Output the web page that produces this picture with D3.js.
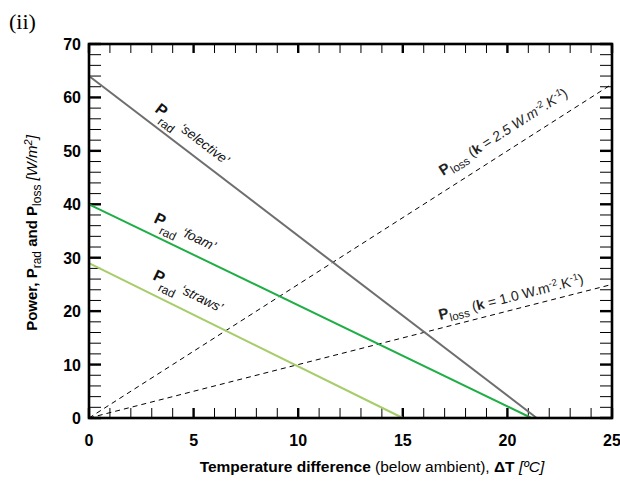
<!DOCTYPE html>
<html><head><meta charset="utf-8">
<script src="https://cdn.jsdelivr.net/npm/d3@7"></script>
<style>
body{margin:0;background:#fff;}
svg text{font-family:"Liberation Sans",Arial,Helvetica,sans-serif;}
</style></head>
<body><svg id="c" width="620" height="483"></svg>
<script>
// ---- data ----
const xTicks = [0,5,10,15,20,25];
const yTicks = [0,10,20,30,40,50,60,70];
const radNames = ["selective","foam","straws"];
const radX = [[0,21.4],[0,21.15],[0,15]];
const radY = [[64,0],[40,0],[29,0]];
const radColors = ["#6e6e6e","#1fae45","#a6cd6a"];
const lossK = [2.5,1.0];
const lossX = [0,25];

const svg = d3.select("#c");
const m = {l:89,r:612,t:44,b:418};
const x = d3.scaleLinear().domain([0,25]).range([m.l,m.r]);
const y = d3.scaleLinear().domain([0,70]).range([m.b,m.t]);

svg.append("text").attr("x",9).attr("y",29).text("(ii)")
  .style("font-family","'Liberation Serif',Times,serif").style("font-size","22px");

// ticks
const minorX = d3.range(0,26,1), minorY = d3.range(0,71,2);
const g = svg.append("g");
minorX.forEach(v=>{
  const maj = v%5===0;
  g.append("line").attr("x1",x(v)).attr("x2",x(v)).attr("y1",m.b).attr("y2",m.b-10)
   .attr("stroke","#000").attr("stroke-width",maj?2.4:1);
  g.append("line").attr("x1",x(v)).attr("x2",x(v)).attr("y1",m.t).attr("y2",m.t+9)
   .attr("stroke","#000").attr("stroke-width",maj?2.4:1);
});
minorY.forEach(v=>{
  const maj = v%10===0;
  g.append("line").attr("x1",m.l).attr("x2",m.l+12).attr("y1",y(v)).attr("y2",y(v))
   .attr("stroke","#000").attr("stroke-width",maj?2.4:1);
  g.append("line").attr("x1",m.r).attr("x2",m.r-12).attr("y1",y(v)).attr("y2",y(v))
   .attr("stroke","#000").attr("stroke-width",maj?2.4:1);
});

// lines
const line = d3.line().x(d=>x(d[0])).y(d=>y(d[1]));
lossK.forEach(k=>{
  svg.append("path").datum(lossX.map(v=>[v,k*v])).attr("d",line)
    .attr("fill","none").attr("stroke","#000").attr("stroke-width",1)
    .attr("stroke-dasharray","5,4");
});
radNames.forEach((n,i)=>{
  svg.append("path").datum(radX[i].map((v,j)=>[v,radY[i][j]])).attr("d",line)
    .attr("fill","none").attr("stroke",radColors[i]).attr("stroke-width",2);
});

// frame
svg.append("rect").attr("x",m.l).attr("y",m.t).attr("width",m.r-m.l).attr("height",m.b-m.t)
  .attr("fill","none").attr("stroke","#000").attr("stroke-width",2.6);

// tick labels
xTicks.forEach(v=>svg.append("text").attr("x",x(v)).attr("y",446).attr("text-anchor","middle")
  .style("font-weight","bold").style("font-size","16px").text(v));
yTicks.forEach(v=>svg.append("text").attr("x",81).attr("y",y(v)+6).attr("text-anchor","end")
  .style("font-weight","bold").style("font-size","16px").text(v));

// axis titles
const xt = svg.append("text").attr("x",372).attr("y",472).attr("text-anchor","middle").style("font-size","15.5px");
xt.append("tspan").style("font-weight","bold").text("Temperature difference");
xt.append("tspan").text(" (below ambient),  ");
xt.append("tspan").style("font-weight","bold").text("ΔT");
xt.append("tspan").style("font-style","italic").text(" [ºC]");

const yt = svg.append("text").attr("transform","translate(37,233) rotate(-90)").attr("text-anchor","middle").style("font-size","15px");
yt.append("tspan").style("font-weight","bold").text("Power, P");
yt.append("tspan").attr("dy",4).style("font-size","12px").text("rad");
yt.append("tspan").attr("dy",-4).style("font-weight","bold").text(" and P");
yt.append("tspan").attr("dy",4).style("font-size","12px").text("loss");
yt.append("tspan").attr("dy",-4).style("font-style","italic").text("  [W/m");
yt.append("tspan").attr("dy",-5).style("font-style","italic").style("font-size","11px").text("2");
yt.append("tspan").attr("dy",5).style("font-style","italic").text("]");

// line labels
function angleOf(x0,y0,x1,y1){return Math.atan2(y(y1)-y(y0),x(x1)-x(x0))*180/Math.PI;}
const radLabelPos = [[154,111],[153,222],[152,279]];
radNames.forEach((n,i)=>{
  const a = angleOf(radX[i][0],radY[i][0],radX[i][1],radY[i][1]);
  const t = svg.append("text").attr("transform",`translate(${radLabelPos[i][0]},${radLabelPos[i][1]}) rotate(${a})`)
    .style("font-size","13.5px").attr("fill","#111");
  t.append("tspan").style("font-weight","bold").style("font-size","16px").text("P");
  t.append("tspan").attr("dy",8).attr("dx",-1).style("font-size","12px").text("rad");
  t.append("tspan").attr("dy",-8).style("font-style","italic").text(" \u2018"+n+"\u2019");
});
const lossLabelPos = [[443,176],[440,320]];
lossK.forEach((k,i)=>{
  const a = angleOf(0,0,25,25*k);
  const t = svg.append("text").attr("transform",`translate(${lossLabelPos[i][0]},${lossLabelPos[i][1]}) rotate(${a})`)
    .style("font-size","14px").attr("fill","#222");
  t.append("tspan").style("font-weight","bold").style("font-size","15px").text("P");
  t.append("tspan").attr("dy",4).style("font-size","11.5px").text("loss");
  t.append("tspan").attr("dy",-4).text(" (");
  t.append("tspan").style("font-weight","bold").text("k");
  t.append("tspan").style("font-style", i===0?"italic":"normal").text(" = "+k.toFixed(1)+" W.m");
  t.append("tspan").attr("dy",-5).style("font-size","9.5px").style("font-style", i===0?"italic":"normal").text("-2");
  t.append("tspan").attr("dy",5).style("font-style", i===0?"italic":"normal").text(".K");
  t.append("tspan").attr("dy",-5).style("font-size","9.5px").style("font-style", i===0?"italic":"normal").text("-1");
  t.append("tspan").attr("dy",5).text(")");
});
</script></body></html>
